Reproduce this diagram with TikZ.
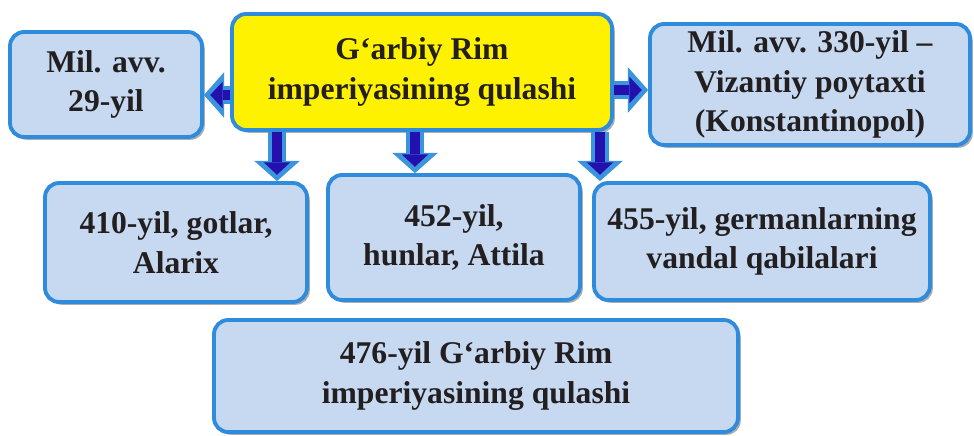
\documentclass[tikz,border=0pt]{standalone}
\usepackage{fontspec}
\setmainfont{Liberation Serif}
\usepackage{xcolor}
\usetikzlibrary{arrows.meta, shadows}

\definecolor{boxfill}{HTML}{C6D9F1}
\definecolor{boxline}{HTML}{2F8BDB}
\definecolor{arrdark}{HTML}{2410AC}
\definecolor{arrlight}{HTML}{3A94DE}
\definecolor{txt}{HTML}{231F20}

\begin{document}
\begin{tikzpicture}[
                x=0.02cm, y=-0.02cm,
                box/.style={draw=boxline, fill=boxfill, line width=2.2pt,
                    rounded corners=8pt, align=center, text=txt,
                    font=\bfseries\fontsize{18}{22.5}\selectfont,
                    drop shadow={shadow xshift=1.6pt, shadow yshift=-1.6pt,
                        fill=black!45, opacity=0.7}},
                mainbox/.style={box, fill=yellow},
                arrout/.style={draw=arrlight, line width=10pt,
                    -{Triangle[length=11.5pt, width=26pt, line width=0pt]}},
                arrin/.style={draw=arrdark, line width=5.6pt, shorten >=3.6pt,
                    -{Triangle[length=7pt, width=15pt, line width=0pt]}}
            ]
                \useasboundingbox (0,0) rectangle (974,436);

                \node[mainbox, minimum width=7.6cm, minimum height=2.32cm] (main) at (422,72)
                    {G‘arbiy Rim\\imperiyasining qulashi};
                \node[box, minimum width=3.84cm, minimum height=2.1cm] (left) at (106,84.5)
                    {Mil. avv.\\29-yil};
                \node[box, minimum width=6.4cm, minimum height=2.42cm] (right) at (810,84.5)
                    {Mil. avv. 330-yil --\\Vizantiy poytaxti\\(Konstantinopol)};

                \node[box, minimum width=5.24cm, minimum height=2.38cm] (gotlar) at (176,242.5)
                    {410-yil, gotlar,\\Alarix};
                \node[box, minimum width=5.04cm, minimum height=2.5cm] (hunlar) at (454,237.5)
                    {452-yil,\\hunlar, Attila};
                \node[box, minimum width=6.72cm, minimum height=2.34cm] (vandal) at (762,241.5)
                    {455-yil, germanlarning\\vandal qabilalari};

                \node[box, minimum width=10.48cm, minimum height=2.24cm] (fall) at (476,376)
                    {476-yil G‘arbiy Rim\\imperiyasining qulashi};

                \path
                (main.west |- 0,95) edge[arrout] (left.east |- 0,95)
                (main.east |- 0,90) edge[arrout] (right.west |- 0,90)
                (277,0 |- main.south) edge[arrout] (277,0 |- gotlar.north)
                (415,0 |- main.south) edge[arrout] (415,0 |- hunlar.north)
                (600,0 |- main.south) edge[arrout] (600,0 |- vandal.north);

                \path
                (main.west |- 0,95) edge[arrin] (left.east |- 0,95)
                (main.east |- 0,90) edge[arrin] (right.west |- 0,90)
                (277,0 |- main.south) edge[arrin] (277,0 |- gotlar.north)
                (415,0 |- main.south) edge[arrin] (415,0 |- hunlar.north)
                (600,0 |- main.south) edge[arrin] (600,0 |- vandal.north);
            \end{tikzpicture}
\end{document}
